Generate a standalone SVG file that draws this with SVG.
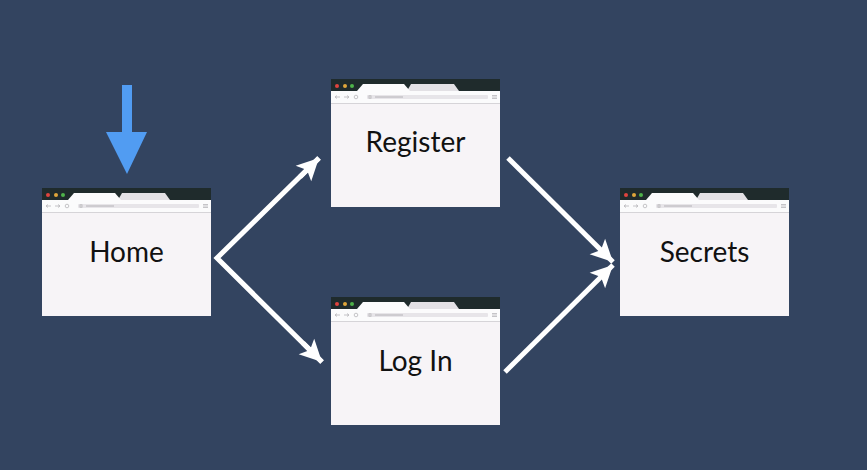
<svg xmlns="http://www.w3.org/2000/svg" xmlns:xlink="http://www.w3.org/1999/xlink" width="867" height="470" viewBox="0 0 867 470">
<style>
.bg{fill:#334460}
.frame{fill:#f7f4f7}
.head{fill:#1f2b2c}
.bar{fill:#fbfbfc}
.tab{fill:#fbfbfc}
.tab2{fill:#e3e1e5}
.addr{fill:#e7e5e9}
.sep{stroke:#d6d4d8;stroke-width:1}
.icon{stroke:#b8b6ba;stroke-width:0.8;fill:none}
.label{font-family:Lato,"Noto Sans",sans-serif;font-size:28px;fill:#111111;text-anchor:middle}
.conn{stroke:#ffffff;stroke-width:5;fill:none;marker-end:url(#head)}
</style>
<defs>
<marker id="head" markerUnits="userSpaceOnUse" viewBox="0 0 24 24" refX="22" refY="12" markerWidth="24" markerHeight="24" orient="auto">
<path d="M0,1 L22,12 L0,23 L5,12 Z" fill="#ffffff"/>
</marker>
<g id="browser">
<rect x="0" y="0" width="169" height="128" class="frame"/>
<rect x="0" y="0" width="169" height="12" class="head"/>
<circle cx="6" cy="7" r="2" fill="#e0443e"/>
<circle cx="14" cy="7" r="2" fill="#dfa63a"/>
<circle cx="21" cy="7" r="2" fill="#4eb34a"/>
<path d="M76,12 L80,5 L123,5 L128,12 Z" class="tab2"/>
<path d="M26,12 L32,5 L73,5 L79,12 Z" class="tab"/>
<rect x="0" y="12" width="169" height="12" class="bar"/>
<line x1="0" y1="24.5" x2="169" y2="24.5" class="sep"/>
<rect x="36" y="16" width="121" height="4" rx="1" class="addr"/>
<path d="M4,18 H9 M6,16.5 L4,18 L6,19.5 M13,18 H18 M16,16.5 L18,18 L16,19.5" class="icon"/>
<circle cx="25" cy="18" r="1.8" class="icon"/>
<rect x="38" y="16.8" width="2" height="2.4" class="icon"/>
<line x1="44" y1="18" x2="72" y2="18" stroke="#a8a6aa" stroke-width="0.8"/>
<path d="M161,16.5 H166 M161,18 H166 M161,19.5 H166" class="icon"/>
</g>
</defs>
<rect x="0" y="0" width="867" height="470" class="bg"/>
<g id="start-arrow">
<polygon points="122,85 132,85 132,132 147,132 127,174 106,132 122,132" fill="#519cf2"/>
</g>
<g id="home">
<use xlink:href="#browser" href="#browser" transform="translate(42,188)"/>
<text x="126.5" y="262" class="label">Home</text>
</g>
<g id="register">
<use xlink:href="#browser" href="#browser" transform="translate(331,79)"/>
<text x="415.5" y="152" class="label">Register</text>
</g>
<g id="login">
<use xlink:href="#browser" href="#browser" transform="translate(331,297)"/>
<text x="415.5" y="371" class="label">Log In</text>
</g>
<g id="secrets">
<use xlink:href="#browser" href="#browser" transform="translate(620,188)"/>
<text x="704.5" y="262" class="label">Secrets</text>
</g>
<g id="connectors">
<path d="M319,158 L217,258 L322,362" class="conn" style="marker-end:none"/>
<path d="M300,177 L319,158" class="conn"/>
<path d="M303,343 L322,362" class="conn"/>
<path d="M508,158 L613,262" class="conn"/>
<path d="M505,372 L613,265" class="conn"/>
</g>
</svg>
